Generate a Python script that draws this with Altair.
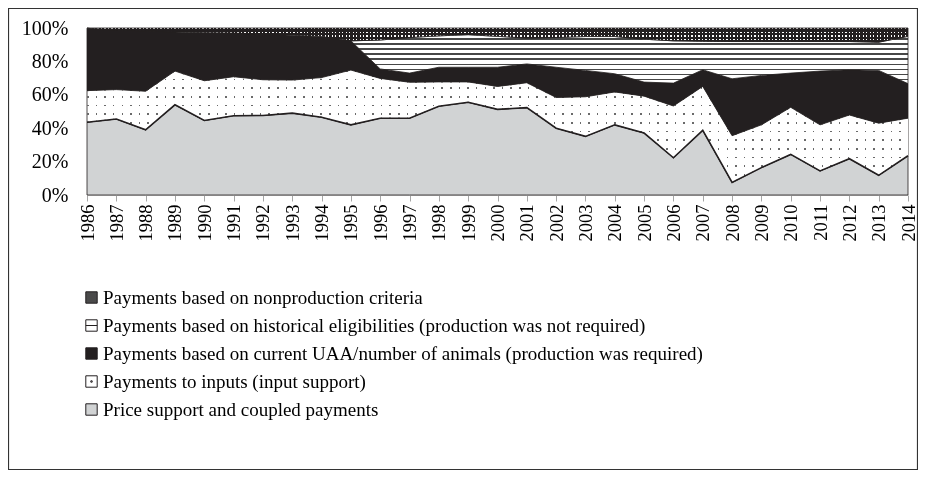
import altair as alt
import pandas as pd

years = list(range(1986, 2015))

series_names = [
    "Payments based on nonproduction criteria",
    "Payments based on historical eligibilities (production was not required)",
    "Payments based on current UAA/number of animals (production was required)",
    "Payments to inputs (input support)",
    "Price support and coupled payments",
]

price = [43.6, 45.5, 39.0, 54.0, 44.6, 47.5, 47.6, 49.0, 46.6, 42.0, 46.0, 46.0, 53.2, 55.5, 51.3,
         52.3, 40.0, 35.1, 42.0, 37.1, 22.3, 38.7, 7.5, 16.4, 24.3, 14.4, 21.7, 11.8, 23.5]
inputs = [18.9, 17.6, 23.1, 20.2, 23.8, 23.3, 21.4, 19.8, 23.7, 32.8, 23.8, 21.5, 14.5, 12.2, 13.7,
          14.9, 18.4, 23.7, 19.7, 22.1, 31.0, 26.3, 28.0, 25.6, 28.2, 27.6, 26.2, 31.2, 22.5]
current = [37.3, 35.7, 36.1, 23.4, 28.8, 26.2, 27.3, 26.9, 24.6, 17.5, 5.7, 5.5, 8.8, 8.8, 11.5,
           11.3, 18.1, 15.8, 10.9, 8.4, 13.7, 10.0, 34.1, 29.6, 20.5, 32.2, 27.1, 31.6, 20.7]
historical = [0, 0, 0, 0, 0, 0, 0, 0, 0, 0, 17.3, 21.3, 18.8, 19.5, 18.5,
              15.5, 17.8, 20.3, 22.3, 25.7, 25.3, 17.1, 22.3, 20.3, 18.9, 17.7, 16.9, 16.9, 28.3]
nonprod = [0.2, 1.2, 1.8, 2.4, 2.8, 3.0, 3.7, 4.3, 5.1, 7.7, 7.2, 5.7, 4.7, 4.0, 5.0,
           6.0, 5.7, 5.1, 5.1, 6.7, 7.7, 7.9, 8.1, 8.1, 8.1, 8.1, 8.1, 8.5, 5.0]

y_ticks = [0, 20, 40, 60, 80, 100]

# stacking order: bottom first
stack_order = [
    (series_names[4], price),
    (series_names[3], inputs),
    (series_names[2], current),
    (series_names[1], historical),
    (series_names[0], nonprod),
]

rows = []
for k, (name, vals) in enumerate(stack_order):
    for yr, v in zip(years, vals):
        rows.append({"year": yr, "series": name, "value": v, "order": k})
df = pd.DataFrame(rows)

FONT = "Liberation Serif"
INK = "#231f20"


def stripes(n, first, second, frac, vertical=True):
    """Hard-edged stripe gradient: `first` band (frac of period) then `second`."""
    stops = []
    for i in range(n):
        a, b, c = i / n, (i + frac) / n, (i + 1) / n
        stops += [
            {"offset": a, "color": first},
            {"offset": b, "color": first},
            {"offset": b, "color": second},
            {"offset": c, "color": second},
        ]
    if vertical:  # stripes run horizontally (gradient goes top->bottom)
        return {"gradient": "linear", "x1": 0, "y1": 0, "x2": 0, "y2": 1, "stops": stops}
    return {"gradient": "linear", "x1": 0, "y1": 0, "x2": 1, "y2": 0, "stops": stops}


# (base fill, optional overlay fill, overlay blend)
styles = {
    series_names[4]: ("#d1d3d4", None, None),
    series_names[3]: (stripes(13, "#6a6a6a", "#ffffff", 0.2), stripes(95, "#6a6a6a", "#ffffff", 0.18, False), "lighten"),
    series_names[2]: (INK, None, None),
    series_names[1]: (stripes(11, "#474747", "#ffffff", 0.27), None, None),
    series_names[0]: (stripes(4, "#ffffff", INK, 0.4), stripes(235, "#ffffff", INK, 0.4, False), "darken"),
}

x_enc = alt.X(
    "year:Q",
    scale=alt.Scale(domain=[1986, 2014], nice=False, zero=False),
    axis=alt.Axis(
        values=years, format="d", labelAngle=270, title=None, grid=False,
        labelFont=FONT, labelFontSize=18.5, labelColor="black", labelPadding=3,
        tickColor="#a6a6a6", tickSize=6, domainColor="#c8c8c8",
    ),
)
y_axis = alt.Axis(
    values=y_ticks, labelExpr="datum.value + '%'", title=None, grid=False,
    ticks=False, domain=False, labelFont=FONT, labelFontSize=20,
    labelColor="black", labelPadding=19,
)
y_scale = alt.Scale(domain=[0, 100], nice=False)

base = alt.Chart(df).transform_stack(
    stack="value", groupby=["year"], as_=["y0", "y1"],
    sort=[alt.SortField("order", order="ascending")],
)

layers = []
for name, _ in stack_order:
    fill, overlay, blend = styles[name]
    part = base.transform_filter(alt.datum.series == name)
    enc = dict(x=x_enc, y=alt.Y("y1:Q", scale=y_scale, axis=y_axis), y2="y0:Q")
    layers.append(part.mark_area(fill=fill, stroke=INK, strokeWidth=0.8).encode(**enc))
    if overlay is not None:
        layers.append(part.mark_area(fill=overlay, blend=blend).encode(**enc))

price_line = (
    base.transform_filter(alt.datum.series == series_names[4])
    .mark_line(color=INK, strokeWidth=1.6)
    .encode(x=x_enc, y=alt.Y("y1:Q", scale=y_scale, axis=y_axis))
)

legend_shapes = [
    "square",
    "M-1,-1H1V1H-1Z M-1,0H1",
    "square",
    "M-1,-1H1V1H-1Z M-0.12,-0.12H0.12V0.12H-0.12Z",
    "square",
]
legend_fills = ["#4a4a4a", "#ffffff", INK, "#ffffff", "#d1d3d4"]
legend_strokes = [INK] * 5

leg = alt.Legend(
    orient="none", legendX=-5, legendY=260, direction="vertical", title=None,
    labelFont=FONT, labelFontSize=19, labelColor="black", labelLimit=0,
    symbolSize=130, symbolStrokeWidth=1, symbolStrokeColor=INK,
    rowPadding=8, labelOffset=2, padding=0, symbolOpacity=1,
)

legend_layer = (
    alt.Chart(df)
    .transform_filter("datum.year < 0")
    .mark_point(filled=True, strokeWidth=1, opacity=1)
    .encode(
        fill=alt.Fill("series:N", scale=alt.Scale(domain=series_names, range=legend_fills), legend=leg),
        shape=alt.Shape("series:N", scale=alt.Scale(domain=series_names, range=legend_shapes), legend=leg),
        stroke=alt.Stroke("series:N", scale=alt.Scale(domain=series_names, range=legend_strokes), legend=leg),
    )
)

frame = (
    alt.Chart(alt.Data(values=[{"f": 1}]))
    .mark_rect(filled=False, stroke="#333333", strokeWidth=1.2)
    .encode(x=alt.value(-78.5), x2=alt.value(830.5), y=alt.value(-19.5), y2=alt.value(441.5))
)

chart = (
    alt.layer(*layers, price_line, legend_layer, frame)
    .properties(
        width=821, height=167,
        autosize=alt.AutoSizeParams(type="none"),
        padding={"left": 79, "top": 20, "right": 10, "bottom": 275},
    )
    .configure_view(stroke=None)
)

chart.save("out.html", embed_options={"renderer": "svg", "actions": False})
